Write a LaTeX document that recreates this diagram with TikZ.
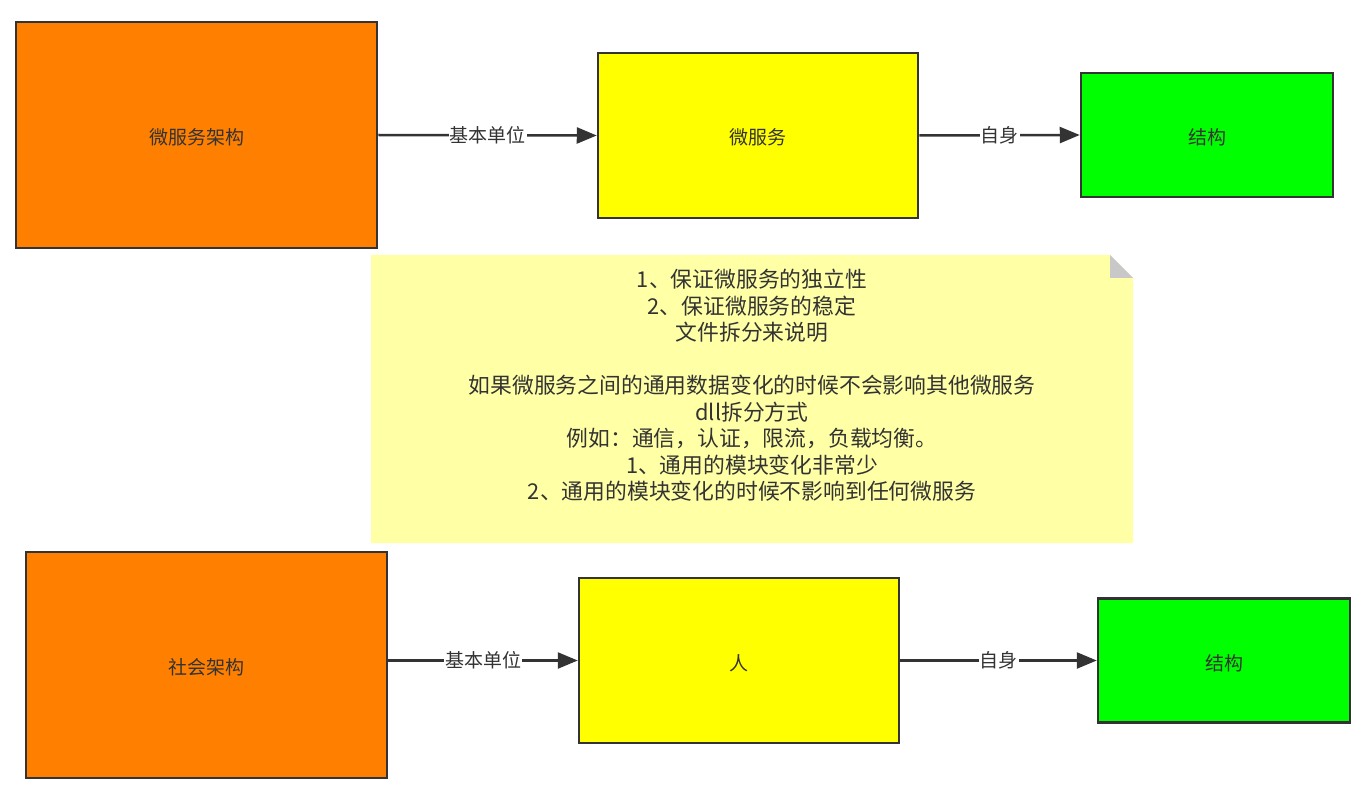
\documentclass[tikz,border=0pt]{standalone}
\usepackage{fontspec}
\setmainfont{Noto Sans CJK SC}
\usetikzlibrary{arrows.meta}
\definecolor{txt}{HTML}{333333}
\definecolor{orangebox}{HTML}{FF8000}
\definecolor{yellowbox}{HTML}{FFFF00}
\definecolor{greenbox}{HTML}{00FF00}
\definecolor{notefill}{HTML}{FFFFA6}
\definecolor{foldfill}{HTML}{C8C8C8}
\tikzset{
  box/.style={draw=txt, line width=2.5pt, inner sep=0pt, text=txt, text height=19pt, text depth=0pt, font=\fontsize{19}{22}\selectfont},
  conn/.style={draw=txt, line width=2.5pt, -{Triangle[length=20pt,width=16pt]}},
  elabel/.style={fill=white, text=txt, inner sep=1pt, font=\fontsize{19}{22}\selectfont},
}
\begin{document}
\begin{tikzpicture}[x=1pt,y=-1pt]
\useasboundingbox (0,0) rectangle (1370,794);
% top row
\node[box, fill=orangebox, minimum width=361pt, minimum height=226pt] (a1) at (196.5,135) {微服务架构};
\node[box, fill=yellowbox, minimum width=320pt, minimum height=165pt] (b1) at (758,135.5) {微服务};
\node[box, fill=greenbox, minimum width=252pt, minimum height=124pt] (c1) at (1207,135) {结构};
\draw[conn] (a1.east) -- node[elabel] {基本单位} (b1.west);
\draw[conn] (b1.east) -- node[elabel] {自身} (c1.west);
% bottom row
\node[box, fill=orangebox, minimum width=361pt, minimum height=226pt] (a2) at (206.5,665) {社会架构};
\node[box, fill=yellowbox, minimum width=320pt, minimum height=165pt] (b2) at (739,660.5) {人};
\node[box, fill=greenbox, minimum width=252pt, minimum height=124pt] (c2) at (1224,660.5) {结构};
\draw[conn] (a2.east |- b2.west) -- node[elabel] {基本单位} (b2.west);
\draw[conn] (b2.east) -- node[elabel] {自身} (c2.west);
% note
\fill[notefill] (371,255) -- (1110,255) -- (1133,278) -- (1133,543) -- (371,543) -- cycle;
\fill[foldfill] (1110,255) -- (1133,278) -- (1110,278) -- cycle;
\node[text=txt, align=center, anchor=north, inner sep=0pt, font=\fontsize{21.8}{26.5}\selectfont] (note) at (752,269) {1、保证微服务的独立性\\2、保证微服务的稳定\\文件拆分来说明\\[26.5pt]如果微服务之间的通用数据变化的时候不会影响其他微服务\\dll拆分方式\\例如：通信，认证，限流，负载均衡。\\1、通用的模块变化非常少\\2、通用的模块变化的时候不影响到任何微服务};
\end{tikzpicture}
\end{document}
